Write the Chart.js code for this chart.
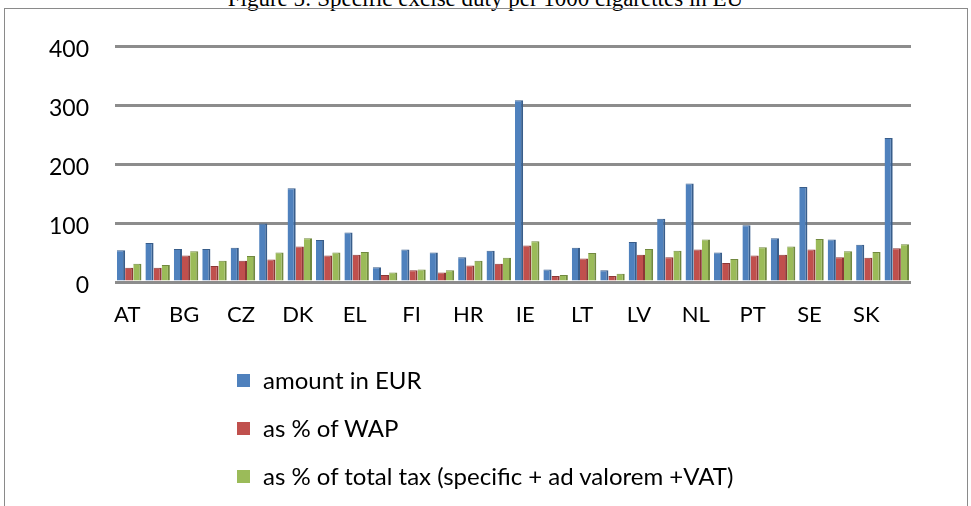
<!DOCTYPE html>
<html>
<head>
<meta charset="utf-8">
<script src="https://cdn.jsdelivr.net/npm/chart.js@4.4.1/dist/chart.umd.min.js"></script>
<style>
    html, body { margin: 0; padding: 0; background: #fff; }
    body { width: 971px; height: 506px; position: relative; overflow: hidden; }
    #title {
        position: absolute; left: 0; width: 971px; top: -13px;
        text-align: center; font-family: "Liberation Serif", serif; font-size: 23px; line-height: 23px;
    }
    #frame {
        position: absolute; left: 4px; top: 8px; width: 962px; height: 520px;
        border: 1.5px solid #8a8a8a;
    }
    #chart { position: absolute; left: 0; top: 0; }
    #legend { position: absolute; left: 237px; top: 365px; font-family: Lato, sans-serif; font-size: 24px; }
    .item { height: 48px; display: flex; align-items: flex-start; }
    .box { width: 13px; height: 13px; margin-top: 9px; margin-right: 13px; }
</style>
</head>
<body>
<div id="title">Figure 5: Specific excise duty per 1000 cigarettes in EU</div>
<div id="frame"></div>
<canvas id="chart" width="971" height="506"></canvas>
<div id="legend"></div>
<script>
    const countries = ['AT', 'BE', 'BG', 'CY', 'CZ', 'DE', 'DK', 'EE', 'EL', 'ES', 'FI', 'FR', 'HR', 'HU',
        'IE', 'IT', 'LT', 'LU', 'LV', 'MT', 'NL', 'PL', 'PT', 'RO', 'SE', 'SI', 'SK', 'UK'];
    const amountEur = [54, 66, 56, 56, 58, 99, 159, 71, 84, 25, 55, 50, 42, 53,
        308, 21, 58, 20, 68, 107, 167, 50, 96, 74, 161, 72, 63, 244];
    const pctWap = [24, 24, 45, 27, 36, 38, 60, 45, 46, 12, 20, 16, 28, 31,
        62, 10, 40, 10, 46, 42, 55, 32, 45, 46, 55, 42, 41, 57];
    const pctTotalTax = [31, 29, 52, 36, 44, 50, 74, 50, 51, 16, 21, 20, 36, 41,
        69, 12, 49, 14, 56, 53, 72, 39, 59, 60, 73, 52, 51, 64];
    const seriesNames = ['amount in EUR', 'as % of WAP', 'as % of total tax (specific + ad valorem +VAT)'];
    const yTicks = [0, 100, 200, 300, 400];

    const colors = ['#4f81bd', '#c0504d', '#9bbb59'];
    const edges = ['#385d8a', '#8c3836', '#71893f'];
    const font = { family: 'Lato', size: 22 };

    const datasets = [amountEur, pctWap, pctTotalTax].map((values, i) => ({
        label: seriesNames[i],
        data: values,
        backgroundColor: colors[i],
        borderColor: edges[i],
        borderWidth: { top: 1, right: 2, left: 0, bottom: 0 },
        borderSkipped: false,
        barPercentage: 1,
        categoryPercentage: 0.86
    }));

    new Chart(document.getElementById('chart'), {
        type: 'bar',
        data: { labels: countries, datasets: datasets },
        options: {
            responsive: false,
            animation: false,
            devicePixelRatio: 1,
            layout: { padding: { left: 0, right: 60, top: 46, bottom: 0 } },
            plugins: { legend: { display: false }, tooltip: { enabled: false } },
            scales: {
                x: {
                    grid: { display: false, drawTicks: false },
                    border: { display: false },
                    ticks: {
                        autoSkip: false,
                        maxRotation: 0,
                        color: '#000',
                        font: font,
                        padding: 20,
                        labelOffset: -2,
                        callback: function(value, index) {
                            return index % 2 === 0 ? countries[index] : '';
                        }
                    },
                    afterFit: function(scale) { scale.height = 224; }
                },
                y: {
                    min: 0,
                    max: 400,
                    afterBuildTicks: function(scale) {
                        scale.ticks = yTicks.map(v => ({ value: v }));
                    },
                    grid: { color: '#8c8c8c', lineWidth: 3, drawTicks: false },
                    border: { display: false },
                    ticks: { color: '#000', font: { family: 'Lato', size: 23 }, padding: 26, labelOffset: 4 },
                    afterFit: function(scale) { scale.width = 115; }
                }
            }
        }
    });

    // Legend stacked vertically like the original
    const legend = document.getElementById('legend');
    seriesNames.forEach((name, i) => {
        const row = document.createElement('div');
        row.className = 'item';
        row.innerHTML = `<span class="box" style="background:${colors[i]}"></span><span>${name}</span>`;
        legend.appendChild(row);
    });
</script>
</body>
</html>
